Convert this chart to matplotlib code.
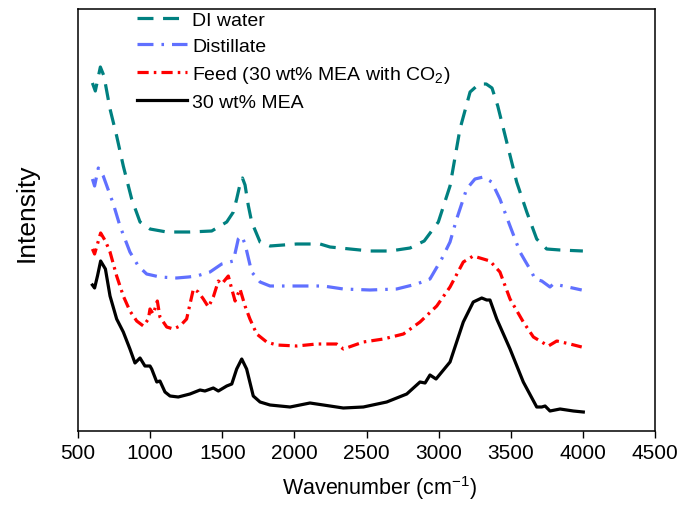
import numpy as np
import matplotlib
matplotlib.use('Agg')
from matplotlib import pyplot as plt

plt.rcParams['font.family'] = ['Liberation Sans', 'DejaVu Sans']
plt.rcParams['mathtext.default'] = 'regular'

# DI water
wn_water = [600, 620, 655, 680, 722, 768, 814, 872, 930, 999, 1115, 1276, 1427, 1531, 1577,
            1600, 1622, 1640, 1658, 1680, 1704, 1762, 1831, 2016, 2178, 2247, 2386, 2524, 2663,
            2802, 2900, 2998, 3079, 3148, 3218, 3280, 3330, 3370, 3410, 3472, 3541, 3611, 3680,
            3749, 3842, 4000]
i_water = [348, 340, 364, 355, 322, 295, 265, 232, 209, 202, 199, 199, 200, 209, 219,
           232, 246, 253, 246, 226, 209, 189, 185, 187, 187, 184, 182, 180, 180,
           183, 190, 209, 245, 302, 339, 347, 347, 343, 325, 289, 249, 219, 192,
           182, 181, 180]

# Distillate
wn_dist = [600, 615, 641, 675, 745, 791, 860, 918, 976, 1068, 1184, 1265, 1323, 1415, 1496,
           1577, 1611, 1635, 1658, 1704, 1762, 1831, 2016, 2201, 2339, 2524, 2709, 2848, 2940,
           3021, 3079, 3125, 3194, 3252, 3310, 3368, 3425, 3495, 3564, 3600, 3645, 3668, 3715,
           3772, 3795, 3865, 3992]
i_dist = [252, 245, 263, 255, 227, 205, 179, 165, 157, 154, 153, 154, 155, 159, 167,
          170, 192, 195, 187, 159, 149, 145, 145, 145, 142, 141, 142, 147, 152,
          172, 189, 212, 242, 252, 254, 249, 232, 205, 179, 170, 159, 152, 150,
          144, 147, 145, 141]

# Feed (30 wt% MEA with CO2)
wn_feed = [600, 615, 635, 657, 690, 722, 768, 814, 860, 907, 953, 988, 999, 1022, 1050, 1068,
           1115, 1161, 1207, 1253, 1300, 1334, 1369, 1404, 1438, 1473, 1496, 1542, 1566, 1589,
           1623, 1658, 1692, 1739, 1808, 1877, 2016, 2154, 2293, 2340, 2478, 2617, 2756, 2871,
           2987, 3079, 3171, 3240, 3356, 3425, 3495, 3587, 3657, 3703, 3761, 3819, 3911, 3992]
i_feed = [182, 177, 187, 198, 190, 179, 155, 135, 120, 110, 105, 112, 122, 117, 130, 114,
          104, 102, 105, 112, 142, 139, 132, 124, 134, 150, 147, 155, 142, 130,
          142, 125, 112, 97, 89, 86, 85, 87, 87, 82, 89, 92, 97, 109,
          125, 144, 169, 175, 170, 159, 132, 109, 94, 90, 85, 90, 87, 84]

# 30 wt% MEA
wn_mea = [600, 615, 635, 657, 690, 722, 768, 814, 860, 895, 930, 964, 999, 1011, 1046, 1068,
          1103, 1138, 1195, 1276, 1346, 1380, 1438, 1473, 1531, 1566, 1600, 1635, 1669, 1715,
          1762, 1831, 1900, 1970, 2108, 2247, 2339, 2478, 2640, 2779, 2871, 2906, 2940, 2982,
          3079, 3171, 3240, 3299, 3333, 3356, 3403, 3495, 3587, 3680, 3715, 3738, 3772, 3842,
          3934, 4003]
i_mea = [146, 143, 155, 170, 162, 135, 112, 99, 82, 68, 73, 65, 65, 62, 49, 50,
         39, 35, 34, 37, 41, 40, 43, 40, 45, 47, 62, 72, 62, 35,
         29, 26, 25, 24, 28, 25, 23, 24, 29, 37, 49, 48, 56, 52,
         69, 109, 129, 133, 131, 131, 112, 82, 49, 24, 24, 25, 20, 22,
         20, 19]

labels = ['DI water', 'Distillate', 'Feed (30 wt% MEA with CO$_2$)', '30 wt% MEA']
xticks = [500, 1000, 1500, 2000, 2500, 3000, 3500, 4000, 4500]

fig = plt.figure(figsize=(6.83, 5.06), dpi=100)
ax = fig.add_axes([78 / 683, 74 / 506, 577 / 683, 422 / 506])

lw = 2.3
ax.plot(wn_water, i_water, color='#008080', lw=lw, linestyle=(0, (5, 3)), label=labels[0])
ax.plot(wn_dist, i_dist, color='#6070FF', lw=lw, linestyle=(0, (5, 2.5, 0.8, 2.5)), label=labels[1])
ax.plot(wn_feed, i_feed, color='#FF0000', lw=lw, linestyle=(0, (3.5, 1.6, 0.8, 1.6)), label=labels[2])
ax.plot(wn_mea, i_mea, color='black', lw=lw, label=labels[3])

ax.set_xlim(500, 4500)
ax.set_ylim(0, 422)
ax.set_xticks(xticks)
ax.set_yticks([])
ax.tick_params(axis='x', direction='out', length=5, width=1, labelsize=15, pad=4)
for s in ax.spines.values():
    s.set_linewidth(1.1)

ax.set_xlabel('Wavenumber (cm$^{-1}$)', fontsize=15.5)
ax.xaxis.set_label_coords(0.522, -0.1)
ax.set_ylabel('Intensity', fontsize=19)
ax.yaxis.set_label_coords(-0.069, 0.519)

ax.legend(loc='upper left', bbox_to_anchor=(0.102, 0.995), frameon=False, fontsize=14,
          handlelength=2.6, handletextpad=0.25, labelspacing=0.45, borderpad=0, borderaxespad=0)

plt.savefig('out.png', dpi=100)
